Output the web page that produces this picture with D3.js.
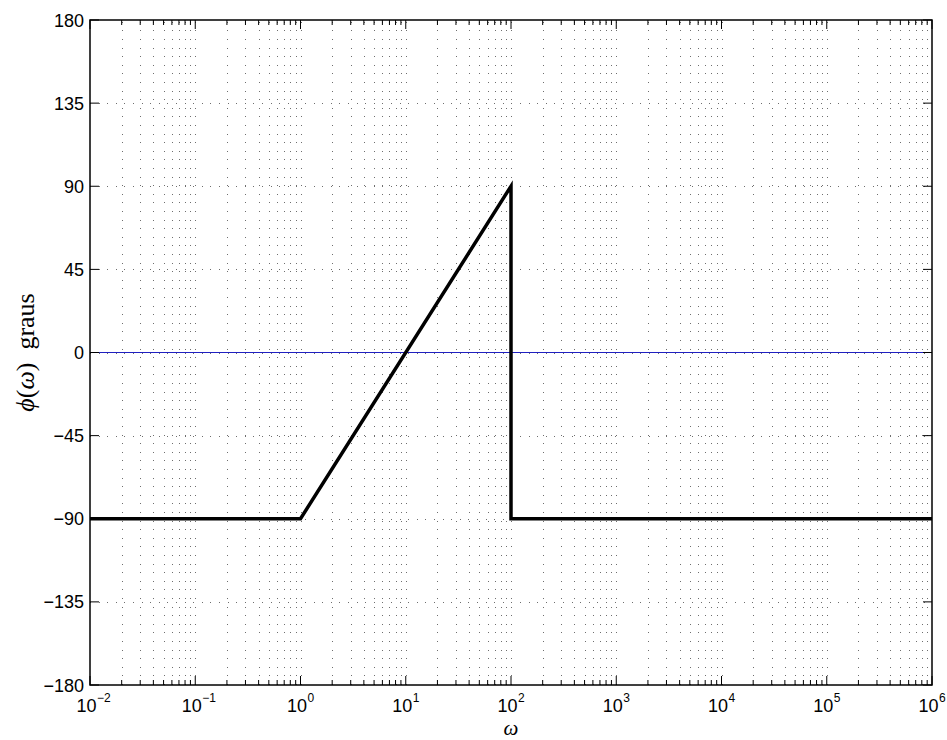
<!DOCTYPE html>
<html>
<head>
<meta charset="utf-8">
<script src="https://cdn.jsdelivr.net/npm/d3@7"></script>
<style>
  html, body { margin: 0; padding: 0; background: #fff; }
  svg { display: block; }
  .tick-label { font-family: "Liberation Sans", Arial, Helvetica, sans-serif; font-size: 18px; fill: #000; }
</style>
</head>
<body>
<svg id="chart" width="947" height="740"></svg>
<script>
// Phase response (asymptotic) in degrees vs angular frequency
const omega = [1e-2, 1, 100, 100, 1e6];
const phase = [-90, -90, 90, -90, -90];
// Reference line at zero phase
const refOmega = [1e-2, 1e6];
const refPhase = [0, 0];
// Axis ticks
const xDecades = [-2, -1, 0, 1, 2, 3, 4, 5, 6];
const yTicks = [-180, -135, -90, -45, 0, 45, 90, 135, 180];

const svg = d3.select("#chart");
const margin = { left: 90, right: 15, top: 20, bottom: 55 };
const W = 947, H = 740;
const x = d3.scaleLog().domain([1e-2, 1e6]).range([margin.left, W - margin.right]);
const y = d3.scaleLinear().domain([-180, 180]).range([H - margin.bottom, margin.top]);
const x0 = x.range()[0], x1 = x.range()[1], y0 = y.range()[0], y1 = y.range()[1];

// minor + major log positions
const logTicks = [];
for (let d = -2; d < 6; d++) {
  for (let m = 1; m <= 9; m++) logTicks.push(m * Math.pow(10, d));
}
logTicks.push(1e6);

// Dotted grid
const grid = svg.append("g").attr("stroke", "#6e6e6e").attr("stroke-width", 1)
  .attr("stroke-dasharray", "1,7.6").attr("shape-rendering", "crispEdges");
logTicks.filter(v => v > 1e-2 && v < 1e6).forEach(v => {
  grid.append("line").attr("x1", Math.round(x(v)) + 0.5).attr("x2", Math.round(x(v)) + 0.5)
    .attr("y1", y0).attr("y2", y1);
});
yTicks.filter(v => v > -180 && v < 180).forEach(v => {
  grid.append("line").attr("x1", x0).attr("x2", x1)
    .attr("y1", Math.round(y(v)) + 0.5).attr("y2", Math.round(y(v)) + 0.5);
});

// Zero reference (blue)
const line = d3.line().x(d => x(d[0])).y(d => y(d[1]));
svg.append("path")
  .datum(refOmega.map((w, i) => [w, refPhase[i]]))
  .attr("d", line).attr("fill", "none").attr("stroke", "#2020c0").attr("stroke-width", 1);

// Phase curve
svg.append("path")
  .datum(omega.map((w, i) => [w, phase[i]]))
  .attr("d", line).attr("fill", "none").attr("stroke", "#000")
  .attr("stroke-width", 3.5).attr("stroke-linejoin", "miter");

// Box and ticks
svg.append("rect").attr("x", x0).attr("y", y1).attr("width", x1 - x0).attr("height", y0 - y1)
  .attr("fill", "none").attr("stroke", "#000").attr("stroke-width", 1.5);
const tickG = svg.append("g").attr("stroke", "#000").attr("stroke-width", 1);
logTicks.forEach(v => {
  const isMajor = Math.abs(Math.log10(v) - Math.round(Math.log10(v))) < 1e-9;
  const len = isMajor ? 9 : 5;
  const px = x(v);
  tickG.append("line").attr("x1", px).attr("x2", px).attr("y1", y0).attr("y2", y0 - len);
  tickG.append("line").attr("x1", px).attr("x2", px).attr("y1", y1).attr("y2", y1 + len);
});
yTicks.forEach(v => {
  const py = y(v);
  tickG.append("line").attr("x1", x0).attr("x2", x0 + 9).attr("y1", py).attr("y2", py);
  tickG.append("line").attr("x1", x1).attr("x2", x1 - 9).attr("y1", py).attr("y2", py);
});

// Y tick labels
svg.append("g").selectAll("text").data(yTicks).join("text")
  .attr("class", "tick-label")
  .attr("x", x0 - 6).attr("y", d => y(d) + 6.5)
  .attr("text-anchor", "end")
  .text(d => d < 0 ? "\u2212" + Math.abs(d) : String(d));

// X tick labels: 10^k
const xl = svg.append("g").selectAll("g").data(xDecades).join("g");
xl.append("text").attr("class", "tick-label")
  .attr("x", d => x(Math.pow(10, d)) + 6.5).attr("y", y0 + 27)
  .attr("text-anchor", "end").style("font-size", "18px").text("10");
xl.append("text").attr("class", "tick-label")
  .attr("x", d => x(Math.pow(10, d)) + 7).attr("y", y0 + 17)
  .attr("text-anchor", "start").style("font-size", "12px")
  .text(d => d < 0 ? "\u2212" + Math.abs(d) : String(d));

// Axis titles
svg.append("text")
  .attr("x", (x0 + x1) / 2).attr("y", H - 5)
  .attr("text-anchor", "middle")
  .style("font-family", "'Liberation Serif', 'DejaVu Serif', serif")
  .style("font-style", "italic").style("font-size", "21px")
  .text("\u03c9");

const yl = svg.append("text")
  .attr("transform", `translate(34, ${(y0 + y1) / 2}) rotate(-90)`)
  .attr("text-anchor", "middle")
  .style("font-family", "'Liberation Serif', 'DejaVu Serif', serif")
  .style("font-size", "26px");
yl.append("tspan").style("font-style", "italic").text("\u03d5");
yl.append("tspan").text("(");
yl.append("tspan").style("font-style", "italic").text("\u03c9");
yl.append("tspan").text(")\u2002graus");
</script>
</body>
</html>
